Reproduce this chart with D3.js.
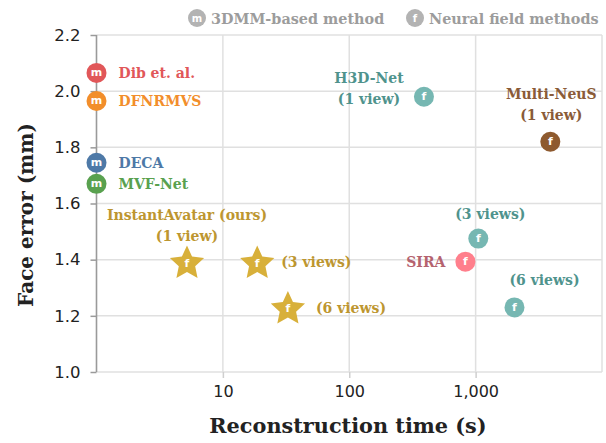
<!DOCTYPE html>
<html><head><meta charset="utf-8">
<script src="https://cdn.jsdelivr.net/npm/d3@7"></script>
<style>
html,body{margin:0;padding:0;background:#fff;}
svg{display:block;}
</style></head>
<body>
<script>
// ---- data ----
const methods = ["Dib et. al.", "DFNRMVS", "DECA", "MVF-Net", "H3D-Net (1 view)", "Multi-NeuS (1 view)", "H3D-Net (3 views)", "SIRA", "H3D-Net (6 views)", "InstantAvatar (1 view)", "InstantAvatar (3 views)", "InstantAvatar (6 views)"];
const times  = [1, 1, 1, 1, 390, 3900, 1050, 830, 2030, 5.2, 18.7, 32.7];
const errors = [2.065, 1.965, 1.745, 1.67, 1.98, 1.82, 1.475, 1.393, 1.23, 1.39, 1.39, 1.228];
const kinds  = ["m","m","m","m","f","f","f","f","f","f","f","f"];
const shapes = ["circle","circle","circle","circle","circle","circle","circle","circle","circle","star","star","star"];
const markColors = ["#e15759","#f28e2b","#4e79a7","#59a14f","#76b7b2","#8e5a2f","#76b7b2","#ff7f8c","#76b7b2","#d8b03a","#d8b03a","#d8b03a"];
const textColors = ["#e15759","#f28e2b","#4e79a7","#59a14f","#4f938d","#8a5b38","#4f938d","#b5636f","#4f938d","#bd9630","#bd9630","#bd9630"];
// label lines and placement (anchor, dx, dy of first line center)
const labelLines = [["Dib et. al."],["DFNRMVS"],["DECA"],["MVF-Net"],["H3D-Net","(1 view)"],["Multi-NeuS","(1 view)"],["(3 views)"],["SIRA"],["(6 views)"],["InstantAvatar (ours)","(1 view)"],["(3 views)"],["(6 views)"]];
const labelAnchor = ["start","start","start","start","middle","middle","middle","end","middle","middle","start","start"];
const labelDx = [22,22,22,22,-55,1,12,-20,30,0,24,28];
const labelDy = [0,0,0,0,-19,-48,-25,0,-27,-47,0,0];
const xTicks = [10, 100, 1000];
const xGrid = [1, 10, 100, 1000, 10000];
const yTicks = [1.0, 1.2, 1.4, 1.6, 1.8, 2.0, 2.2];
const legendLabels = ["3DMM-based method", "Neural field methods"];
const legendKinds = ["m", "f"];

// ---- chart ----
const W = 606, H = 443;
const svg = d3.select("body").append("svg").attr("width", W).attr("height", H);
const x = d3.scaleLog().domain([1, 10000]).range([96.5, 602]);
const y = d3.scaleLinear().domain([1.0, 2.2]).range([372, 35]);
const serif = "'DejaVu Serif', serif";
const sans = "'DejaVu Sans', sans-serif";

// grid
svg.append("g").selectAll("line.gx").data(xGrid.slice(1)).join("line")
  .attr("x1", d => x(d)).attr("x2", d => x(d)).attr("y1", y(2.2)).attr("y2", y(1.0))
  .attr("stroke", "#e0e0e0").attr("stroke-width", 1.5);
svg.append("g").selectAll("line.gy").data(yTicks).join("line")
  .attr("x1", x(1)).attr("x2", x(10000)).attr("y1", d => y(d)).attr("y2", d => y(d))
  .attr("stroke", "#e0e0e0").attr("stroke-width", 1.5);

// x axis
const xa = svg.append("g").attr("transform", `translate(0,${y(1.0)})`)
  .call(d3.axisBottom(x).tickValues(xTicks).tickFormat(d3.format(",")).tickSize(6).tickPadding(8));
xa.select(".domain").remove();
xa.selectAll(".tick line").attr("stroke", "#cfcfcf").attr("stroke-width", 1.5);
xa.selectAll(".tick text").attr("font-family", sans).attr("font-size", 16).attr("fill", "#222");

// y axis
const ya = svg.append("g").attr("transform", `translate(${x(1)},0)`)
  .call(d3.axisLeft(y).tickValues(yTicks).tickFormat(d3.format(".1f")).tickSize(6).tickPadding(10));
ya.select(".domain").attr("stroke", "#9a9a9a").attr("stroke-width", 1.6).attr("d", `M0,${y(2.2)}V${y(1.0)}`);
ya.selectAll(".tick line").attr("stroke", "#9a9a9a").attr("stroke-width", 1.5);
ya.selectAll(".tick text").attr("font-family", sans).attr("font-size", 16.5).attr("fill", "#222");

// axis titles
svg.append("text").attr("x", 348).attr("y", 427).attr("text-anchor", "middle").attr("dominant-baseline", "middle")
  .attr("font-family", serif).attr("font-weight", "bold").attr("font-size", 20.8).attr("fill", "#222")
  .text("Reconstruction time (s)");
svg.append("text").attr("transform", "translate(27,215) rotate(-90)").attr("text-anchor", "middle").attr("dominant-baseline", "middle")
  .attr("font-family", serif).attr("font-weight", "bold").attr("font-size", 20).attr("fill", "#222")
  .text("Face error (mm)");

// star path generator (outer radius R, inner radius r)
function starPath(R, r) {
  const pts = [];
  for (let i = 0; i < 10; i++) {
    const a = -Math.PI / 2 + i * Math.PI / 5;
    const rad = i % 2 === 0 ? R : r;
    pts.push([rad * Math.cos(a), rad * Math.sin(a)]);
  }
  return "M" + pts.map(p => p[0].toFixed(2) + "," + p[1].toFixed(2)).join("L") + "Z";
}

// points
const data = methods.map((m, i) => ({ m, t: times[i], e: errors[i], k: kinds[i], s: shapes[i], c: markColors[i], tc: textColors[i], lines: labelLines[i], anchor: labelAnchor[i], dx: labelDx[i], dy: labelDy[i] }));
const pg = svg.append("g").selectAll("g").data(data).join("g")
  .attr("transform", d => `translate(${x(d.t)},${y(d.e)})`);
pg.filter(d => d.s === "circle").append("circle").attr("r", 10).attr("fill", d => d.c);
pg.filter(d => d.s === "star").append("path").attr("d", starPath(18, 8.6)).attr("transform", "translate(0,1)").attr("fill", d => d.c);
pg.append("text").attr("text-anchor", "middle").attr("dominant-baseline", "central")
  .attr("font-family", sans).attr("font-weight", "bold").attr("font-size", 11).attr("fill", "#fff")
  .attr("y", d => d.s === "star" ? 1 : 0)
  .text(d => d.k);

// labels
pg.each(function(d) {
  const g = d3.select(this);
  d.lines.forEach((ln, j) => {
    g.append("text").attr("x", d.dx).attr("y", d.dy + j * 21)
      .attr("text-anchor", d.anchor).attr("dominant-baseline", "central")
      .attr("font-family", serif).attr("font-weight", "bold").attr("font-size", 14)
      .attr("fill", d.tc).text(ln);
  });
});

// legend
const lgX = [197, 415];
const lg = svg.append("g").selectAll("g").data(legendLabels).join("g")
  .attr("transform", (d, i) => `translate(${lgX[i]},18)`);
lg.append("circle").attr("r", 9).attr("fill", "#b3b3b3");
lg.append("text").attr("text-anchor", "middle").attr("dominant-baseline", "central")
  .attr("font-family", sans).attr("font-weight", "bold").attr("font-size", 10).attr("fill", "#fff")
  .text((d, i) => legendKinds[i]);
lg.append("text").attr("x", 14).attr("dominant-baseline", "central")
  .attr("font-family", serif).attr("font-weight", "bold").attr("font-size", 14.4).attr("fill", "#9c9c9c")
  .text(d => d);
</script>
</body></html>
